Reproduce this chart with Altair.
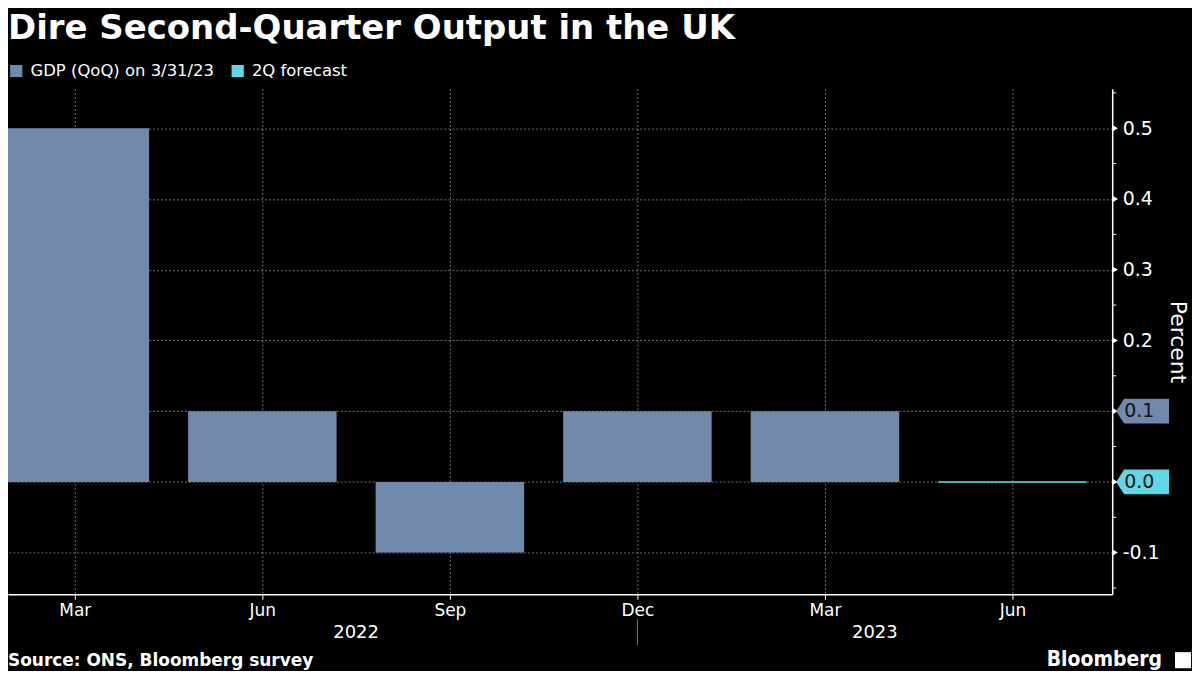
import json
import altair as alt
import pandas as pd

# ---------------- data ----------------
quarter_index = [0, 1, 2, 3, 4, 5]
month_labels = ["Mar", "Jun", "Sep", "Dec", "Mar", "Jun"]
gdp_quarters = [0, 1, 2, 3, 4]
gdp_qoq = [0.5, 0.1, -0.1, 0.1, 0.1]
forecast_quarters = [5]
forecast_qoq = [0.0]
year_labels = ["2022", "2023"]
y_major_ticks = [-0.1, 0.0, 0.1, 0.2, 0.3, 0.4, 0.5]
y_minor_ticks = [-0.15, -0.05, 0.05, 0.15, 0.25, 0.35, 0.45, 0.55]

S_GDP = "GDP (QoQ) on 3/31/23"
S_FC = "2Q forecast"
C_GDP = "#7189ab"
C_FC = "#62d8e6"

# ---------------- layout ----------------
W, H = 1107, 507
XMIN, XMAX = -0.3564, 5.532
YMIN, YMAX = -0.159, 0.556
HALF = 0.396
FONT = "DejaVu Sans"

xscale = alt.Scale(domain=[XMIN, XMAX], nice=False, zero=False)
yscale = alt.Scale(domain=[YMIN, YMAX], nice=False, zero=False)
cscale = alt.Scale(domain=[S_GDP, S_FC], range=[C_GDP, C_FC])

bars_df = pd.DataFrame({"idx": gdp_quarters, "value": gdp_qoq, "series": S_GDP})
fc_df = pd.DataFrame({"idx": forecast_quarters, "value": forecast_qoq, "series": S_FC})
tags_df = pd.DataFrame({
    "value": [gdp_qoq[-1], forecast_qoq[-1]],
    "label": [f"{gdp_qoq[-1]:.1f}", f"{forecast_qoq[-1]:.1f}"],
    "series": [S_GDP, S_FC],
})
year_spans = [(0, 3), (3, XMAX)]
years_df = pd.DataFrame({"pos": [(a + b) / 2 for a, b in year_spans], "label": year_labels})
sep_df = pd.DataFrame({"pos": [3]})
minor_df = pd.DataFrame({"value": y_minor_ticks})
major_df = pd.DataFrame({"value": y_major_ticks})

label_expr = json.dumps(month_labels) + "[datum.value]"

X_AXIS = alt.Axis(
    values=quarter_index, labelExpr=label_expr, title=None, grid=True,
    gridColor="#6e6e6e", gridDash=[2, 2], gridWidth=1,
    domainColor="#ffffff", domainWidth=1.5, tickColor="#ffffff", tickSize=5,
    labelColor="#ffffff", labelFontSize=17, labelPadding=3, labelFont=FONT)
Y_AXIS = alt.Axis(
    orient="right", values=y_major_ticks, format=".1f",
    labelExpr="abs(datum.value-0.1)<1e-6 || abs(datum.value)<1e-6 ? '' : replace(format(datum.value,'.1f'),'\u2212','-')",
    title="Percent", titleColor="#ffffff", titleFontSize=22, titleFont=FONT,
    titleFontWeight="normal", titlePadding=6,
    grid=True, gridColor="#6e6e6e", gridDash=[2, 2], gridWidth=1,
    domainColor="#ffffff", domainWidth=1.5, tickColor="#ffffff", tickSize=0,
    labelColor="#ffffff", labelFontSize=19, labelPadding=10, labelFont=FONT)


def xq(field):
    return alt.X(field, scale=xscale, axis=X_AXIS)


def yq(field):
    return alt.Y(field, scale=yscale, axis=Y_AXIS)


bars = alt.Chart(bars_df).transform_calculate(
    x0=f"datum.idx - {HALF}", x1=f"datum.idx + {HALF}", y0="0"
).mark_rect(clip=True).encode(
    x=xq("x0:Q"),
    x2="x1:Q",
    y=yq("value:Q"),
    y2="y0:Q",
    color=alt.Color("series:N", scale=cscale, legend=alt.Legend(
        title=None, orient="none", legendX=0, legendY=-26, direction="horizontal",
        symbolType="square", symbolSize=150, symbolStrokeWidth=0,
        labelColor="#ffffff", labelFontSize=16.5, labelFont=FONT, labelLimit=0,
        labelOffset=6, columnPadding=15)),
)

forecast = alt.Chart(fc_df).transform_calculate(
    x0=f"datum.idx - {HALF}", x1=f"datum.idx + {HALF}"
).mark_rule(strokeWidth=1.5).encode(
    x=xq("x0:Q"),
    x2="x1:Q",
    y=yq("value:Q"),
    color=alt.Color("series:N", scale=cscale, legend=None),
)

minor_ticks = alt.Chart(minor_df).mark_rule(color="#ffffff", strokeWidth=1).encode(
    x=alt.value(W), x2=alt.value(W + 4),
    y=yq("value:Q"),
)

major_ticks = alt.Chart(major_df).mark_point(
    shape="triangle-right", filled=True, color="#ffffff", size=40, opacity=1
).encode(
    x=alt.value(W + 3),
    y=yq("value:Q"),
)

tag_shape = alt.Chart(tags_df).mark_point(
    shape="M0,0 L0.3,-0.47 L2,-0.47 L2,0.47 L0.3,0.47 Z",
    filled=True, size=2809, opacity=1, strokeWidth=0,
).encode(
    x=alt.value(W + 4),
    y=yq("value:Q"),
    color=alt.Color("series:N", scale=cscale, legend=None),
)

tag_text = alt.Chart(tags_df).mark_text(
    align="left", baseline="middle", fontSize=19, font=FONT, color="#111111"
).encode(
    x=alt.value(W + 12),
    y=yq("value:Q"),
    text="label:N",
)

years = alt.Chart(years_df).mark_text(
    baseline="middle", fontSize=18, font=FONT, color="#ffffff"
).encode(
    x=xq("pos:Q"),
    y=alt.value(H + 39),
    text="label:N",
)

sep = alt.Chart(sep_df).mark_rule(color="#777777", strokeWidth=1).encode(
    x=xq("pos:Q"),
    y=alt.value(H + 25), y2=alt.value(H + 51),
)

source = alt.Chart(pd.DataFrame({"t": ["Source: ONS, Bloomberg survey"]})).mark_text(
    align="left", baseline="middle", fontSize=17, font=FONT, fontWeight="bold", color="#ffffff"
).encode(x=alt.value(0), y=alt.value(H + 67), text="t:N")

brand = alt.Chart(pd.DataFrame({"t": ["Bloomberg"]})).mark_text(
    align="right", baseline="middle", fontSize=21, font="DejaVu Sans Condensed",
    fontWeight="bold", color="#ffffff"
).encode(x=alt.value(W + 50), y=alt.value(H + 66), text="t:N")

logo = alt.Chart(pd.DataFrame({"t": ["x"]})).mark_point(
    shape="square", filled=True, color="#ffffff", size=260, opacity=1
).encode(x=alt.value(W + 71), y=alt.value(H + 66))

chart = alt.layer(
    bars, forecast, minor_ticks, major_ticks, tag_shape, tag_text,
    years, sep, source, brand, logo
).properties(
    width=W, height=H,
    title=alt.TitleParams(
        "Dire Second-Quarter Output in the UK", anchor="start", fontSize=34,
        font="DejaVu Sans", fontWeight="bold", color="#ffffff", offset=17,
    ),
).configure(
    background="#000000", padding={"top": 3, "left": 0, "right": 0, "bottom": 0},
).configure_view(stroke=None)

chart.save("out.html", embed_options={"renderer": "svg", "actions": False})
